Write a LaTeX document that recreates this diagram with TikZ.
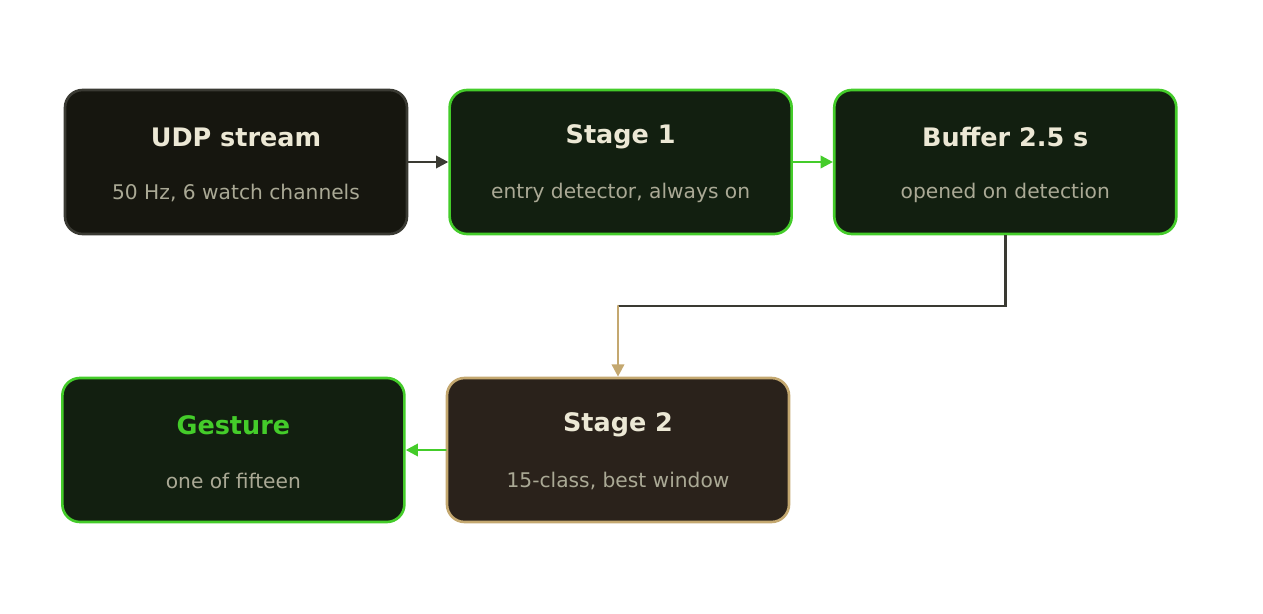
\documentclass[tikz,border=0pt]{standalone}
\usepackage{fontspec}
\setmainfont{DejaVu Sans}
\usetikzlibrary{positioning,arrows.meta}
\definecolor{boxdark}{HTML}{16160F}
\definecolor{edgedark}{HTML}{3A3A33}
\definecolor{boxgreen}{HTML}{121F10}
\definecolor{edgegreen}{HTML}{44CC2A}
\definecolor{boxtan}{HTML}{2A221B}
\definecolor{edgetan}{HTML}{C4A870}
\definecolor{titletext}{HTML}{ECE8D5}
\definecolor{subtext}{HTML}{AAA995}
\begin{document}
\begin{tikzpicture}
		[line cap=round,
		%Styles
		stage/.style={draw,line width=1.5pt,rounded corners=10pt,minimum width=6.84cm,minimum height=2.88cm},
		title/.style={font=\bfseries\fontsize{14.5}{16}\selectfont,text=titletext},
		sub/.style={font=\fontsize{11.5}{13}\selectfont,text=subtext},
		link/.style={line width=1.5pt,-{Triangle[length=7pt,width=7pt]}}
		]
		\useasboundingbox (0,0) rectangle (25.26,12.26);
		
		%Boxes
		\node[stage,draw=edgedark,fill=boxdark] (udp) at (4.72,9.02) {};
		\node[stage,draw=edgegreen,fill=boxgreen,right=0.8cm of udp] (one) {};
		\node[stage,draw=edgegreen,fill=boxgreen,right=0.8cm of one] (buf) {};
		\node[stage,draw=edgetan,fill=boxtan] (two) at (12.36,3.26) {};
		\node[stage,draw=edgegreen,fill=boxgreen,left=0.8cm of two] (gest) {};
		
		%Texts
		\node[title] (udpT) at ([yshift=0.5cm]udp.center) {UDP stream};
		\node[sub] (udpS) at ([yshift=-0.62cm]udp.center) {50 Hz, 6 watch channels};
		\node[title] (oneT) at ([yshift=0.5cm]one.center) {Stage 1};
		\node[sub] (oneS) at ([yshift=-0.62cm]one.center) {entry detector, always on};
		\node[title] (bufT) at ([yshift=0.5cm]buf.center) {Buffer 2.5 s};
		\node[sub] (bufS) at ([yshift=-0.62cm]buf.center) {opened on detection};
		\node[title] (twoT) at ([yshift=0.5cm]two.center) {Stage 2};
		\node[sub] (twoS) at ([yshift=-0.62cm]two.center) {15-class, best window};
		\node[title,text=edgegreen] (gestT) at ([yshift=0.5cm]gest.center) {Gesture};
		\node[sub] (gestS) at ([yshift=-0.62cm]gest.center) {one of fifteen};
		
		%Connectors
		\coordinate (turn) at (12.36,6.14);
		\draw[link,edgedark] (udp) -- (one);
		\draw[link,edgegreen] (one) -- (buf);
		\draw[line width=1.5pt,edgedark,line cap=butt] (buf.south) |- (turn);
		\draw[link,edgetan] (turn) -- (two.north);
		\draw[link,edgegreen] (two) -- (gest);
\end{tikzpicture}
\end{document}
